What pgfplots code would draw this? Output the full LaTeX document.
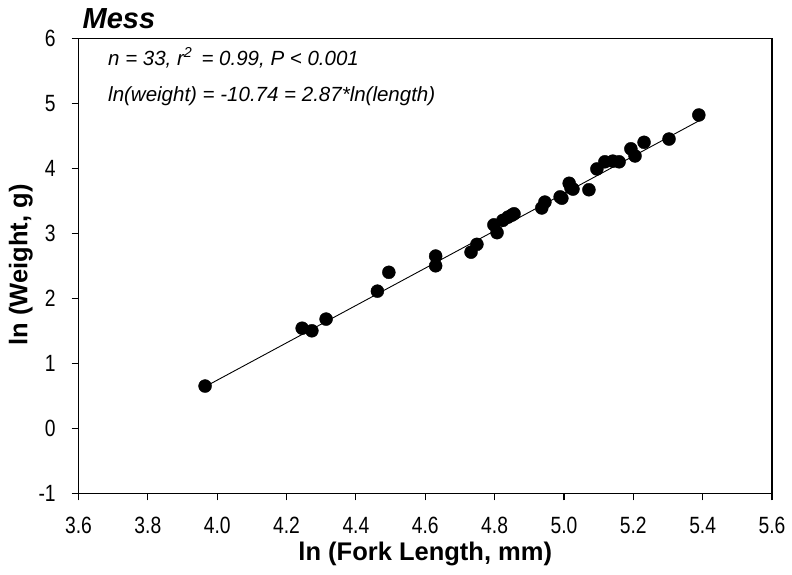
\documentclass[border=0pt]{standalone}
\usepackage{fontspec}
\setmainfont{Liberation Sans}
\newfontfamily\condensed{Liberation Sans}[FakeStretch=0.82]
\usepackage{pgfplots}
\pgfplotsset{compat=1.18}
\begin{document}
\begin{tikzpicture}
\begin{axis}[
  name=ax,
  scale only axis,
  width=693.5pt, height=455pt,
  xmin=3.6, xmax=5.6, ymin=-1, ymax=6,
  xtick={3.6,3.8,...,5.6},
  ytick={-1,0,...,6},
  xticklabel style={/pgf/number format/fixed, /pgf/number format/fixed zerofill, /pgf/number format/precision=1, anchor=north},
  yticklabel style={anchor=east},
  /pgf/number format/assume math mode=true,
  tick align=outside,
  xtick pos=left, ytick pos=left,
  major tick length=7pt,
  tick style={black, line width=1.1pt},
  axis line style={line width=1.1pt},
  ticklabel style={font=\condensed\fontsize{23.5}{28}\selectfont, inner sep=0pt},
  xticklabel shift=17pt,
  yticklabel shift=15.6pt,
  clip=false,
]
\addplot[black, line width=0.9pt, no marks] coordinates {(3.965,0.64) (5.389,4.73)};
\addplot[only marks, mark=*, mark size=6.5pt, mark options={fill=black, draw=black}] coordinates {
(3.965,0.65) (4.245,1.54) (4.273,1.50) (4.314,1.68) (4.462,2.11) (4.495,2.40)
(4.630,2.65) (4.630,2.50) (4.732,2.71) (4.749,2.83) (4.798,3.13) (4.807,3.01)
(4.824,3.20) (4.839,3.25) (4.856,3.30) (4.936,3.39) (4.945,3.48) (4.989,3.56)
(4.994,3.54) (5.015,3.77) (5.020,3.70) (5.026,3.68) (5.072,3.67) (5.095,3.99)
(5.118,4.10) (5.141,4.11) (5.159,4.10) (5.193,4.30) (5.205,4.19) (5.231,4.40)
(5.303,4.45) (5.389,4.82) (4.850,3.28)
};
\node[anchor=base west, font=\fontsize{29}{34}\selectfont\bfseries\itshape, inner sep=0pt] at (rel axis cs:0,1) [xshift=4pt, yshift=10pt] {Mess};
\node[anchor=base west, font=\fontsize{20.5}{24}\selectfont\itshape, inner sep=0pt] at (rel axis cs:0,1) [xshift=29.5pt, yshift=-27pt] {n = 33, r\textsuperscript{2}\, = 0.99, P < 0.001};
\node[anchor=base west, font=\fontsize{20.5}{24}\selectfont\itshape, inner sep=0pt] at (rel axis cs:0,1) [xshift=29.5pt, yshift=-63pt] {ln(weight) = -10.74 = 2.87*ln(length)};
\node[anchor=base, font=\fontsize{25.5}{30}\selectfont\bfseries, inner sep=0pt] at ([yshift=-67pt]rel axis cs:0.5,0) {ln (Fork Length, mm)};
\node[anchor=base, rotate=90, font=\fontsize{25.5}{30}\selectfont\bfseries, inner sep=0pt] at ([xshift=-51pt, yshift=0.8pt]rel axis cs:0,0.5) {ln (Weight, g)};
\end{axis}
\pgfresetboundingbox
\path[use as bounding box] (-78.5pt,-80.7pt) rectangle (713.5pt,493.3pt);
\end{tikzpicture}
\end{document}
